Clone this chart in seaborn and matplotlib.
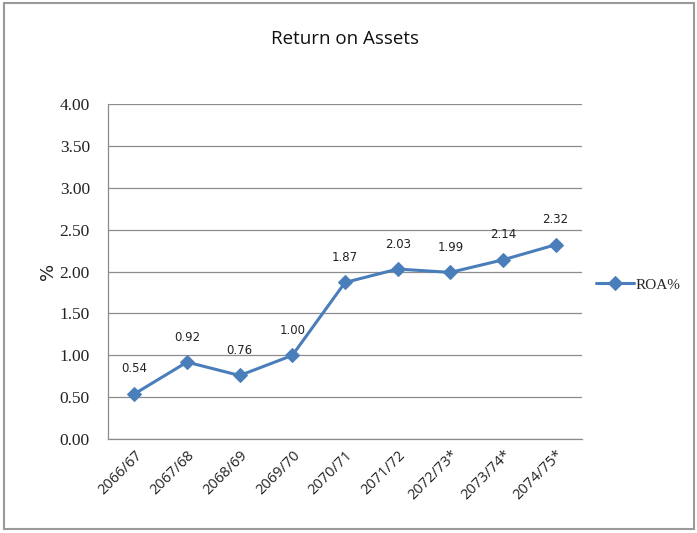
import matplotlib
matplotlib.use("Agg")
import matplotlib.pyplot as plt
from matplotlib.patches import Rectangle
from matplotlib.ticker import FixedLocator, FormatStrFormatter
import numpy as np
import pandas as pd
import seaborn as sns

years = ["2066/67", "2067/68", "2068/69", "2069/70", "2070/71",
         "2071/72", "2072/73*", "2073/74*", "2074/75*"]
roa = [0.54, 0.92, 0.76, 1.00, 1.87, 2.03, 1.99, 2.14, 2.32]
series_name = "ROA%"
y_ticks = [0.0, 0.5, 1.0, 1.5, 2.0, 2.5, 3.0, 3.5, 4.0]

sns.set_style("white")
plt.rcParams["font.family"] = ["DejaVu Sans"]

df = pd.DataFrame({"pos": np.arange(len(years)), "value": roa, "series": series_name})

fig = plt.figure(figsize=(6.97, 5.33), dpi=100)
ax = fig.add_axes([0.155, 0.176, 0.68, 0.629])

blue = "#4A7EBB"
sns.lineplot(data=df, x="pos", y="value", hue="series", palette=[blue],
             marker="D", markersize=7, linewidth=2.2, markeredgecolor=blue,
             ax=ax)

ax.set_xlim(-0.5, len(years) - 0.5)
ax.set_ylim(0, 4)
ax.yaxis.set_major_locator(FixedLocator(y_ticks))
ax.yaxis.set_major_formatter(FormatStrFormatter("%.2f"))
for lbl in ax.get_yticklabels():
    lbl.set_family("Liberation Serif")
    lbl.set_fontsize(12.5)
    lbl.set_color("#222222")
ax.grid(axis="y", color="#8c8c8c", linewidth=0.9)
ax.set_axisbelow(True)

ax.xaxis.set_major_locator(FixedLocator(np.arange(len(years))))
ax.set_xticklabels(years, rotation=45, ha="right", rotation_mode="anchor",
                   fontsize=10.5, family="Open Sans", color="#222222")
ax.xaxis.set_minor_locator(FixedLocator(np.arange(-0.5, len(years), 1.0)))
ax.tick_params(axis="x", which="major", length=0, pad=6)
ax.tick_params(axis="x", which="minor", length=5, color="#8c8c8c", width=0.9)
ax.tick_params(axis="y", which="major", length=5, color="#8c8c8c", width=0.9, pad=8)

for side in ["top", "right"]:
    ax.spines[side].set_visible(False)
for side in ["left", "bottom"]:
    ax.spines[side].set_color("#8c8c8c")
    ax.spines[side].set_linewidth(0.9)

for x, v in zip(df["pos"], roa):
    ax.annotate(f"{v:.2f}", (x, v), xytext=(0, 18), textcoords="offset points",
                ha="center", va="center", fontsize=8.5, color="#222222")

ax.set_xlabel("")
ax.set_ylabel("%", fontsize=13, labelpad=2, color="#222222")
ax.set_title("Return on Assets", fontsize=13.5, pad=43, family="Open Sans",
             color="#111111")

leg = ax.legend(loc="center left", bbox_to_anchor=(1.0, 0.46), frameon=False,
                handlelength=2.5, handletextpad=0.1,
                prop={"family": "Liberation Serif", "size": 11})

fig.patches.append(Rectangle((0.006, 0.007), 0.99, 0.988, transform=fig.transFigure,
                             fill=False, edgecolor="#9a9a9a", linewidth=1.5))

fig.savefig("out.png", dpi=100)
